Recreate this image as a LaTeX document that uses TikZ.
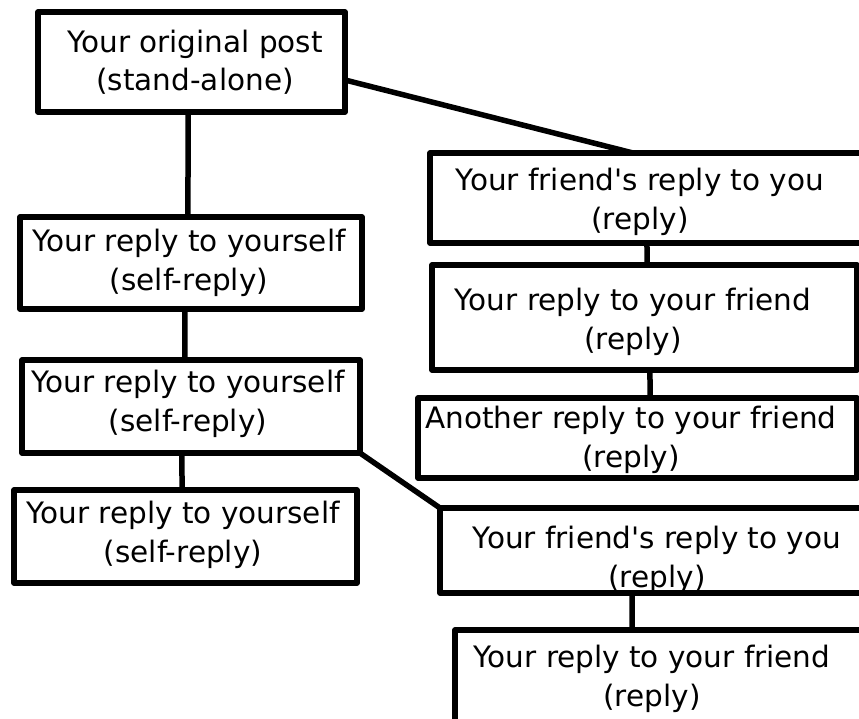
\documentclass[tikz,border=0pt]{standalone}
\usepackage{fontspec}
\setmainfont{DejaVu Sans}
\usetikzlibrary{calc}
\tikzset{
  post/.style={draw=black, line width=5.5pt, line join=round, rectangle, inner sep=0pt, outer sep=0pt},
  lbl/.style={align=center, inner sep=0pt, font=\fontsize{29.5}{38.5}\selectfont},
  link/.style={draw=black, line width=5.5pt, line cap=butt}
}
\begin{document}
\begin{tikzpicture}[x=1pt, y=-1pt]
\useasboundingbox (0,0) rectangle (859,719);
\fill[white] (0,0) rectangle (859,719);
\clip (0,0) rectangle (859,719);
% boxes
\node[post, minimum width=307pt, minimum height=100pt] (A) at (191.5,62) {};
\node[post, minimum width=342pt, minimum height=92pt] (G) at (191,263) {};
\node[post, minimum width=338pt, minimum height=93pt] (H) at (191,406.5) {};
\node[post, minimum width=343pt, minimum height=93pt] (I) at (185.5,536.5) {};
\node[post, minimum width=450pt, minimum height=90pt] (B) at (655,198) {};
\node[post, minimum width=425pt, minimum height=105pt] (C) at (644.5,317.5) {};
\node[post, minimum width=439pt, minimum height=80pt] (D) at (637.5,438) {};
\node[post, minimum width=440pt, minimum height=85pt] (E) at (660,550.5) {};
\node[post, minimum width=425pt, minimum height=110pt] (F) at (667.5,685) {};
% labels
\node[lbl] (tA) at (195,62) {Your original post\\(stand-alone)};
\node[lbl] (tG) at (189,263) {Your reply to yourself\\(self-reply)};
\node[lbl] (tH) at (188,404) {Your reply to yourself\\(self-reply)};
\node[lbl] (tI) at (183,535) {Your reply to yourself\\(self-reply)};
\node[lbl] (tB) at (640,202) {Your friend\textquotesingle s reply to you\\(reply)};
\node[lbl] (tC) at (633,322) {Your reply to your friend\\(reply)};
\node[lbl] (tD) at (631,440) {Another reply to your friend\\(reply)};
\node[lbl] (tE) at (657,560) {Your friend\textquotesingle s reply to you\\(reply)};
\node[lbl] (tF) at (652,679) {Your reply to your friend\\(reply)};
% connectors
\draw[link] ($(A.north east)!0.68!(A.south east)$) -- ($(B.north west)!0.4511!(B.north east)$);
\draw[link] ($(A.south west)!0.489!(A.south east)$) -- ($(G.north west)!0.491!(G.north east)$);
\draw[link] ($(G.south west)!0.482!(G.south east)$) -- ($(H.north west)!0.482!(H.north east)$);
\draw[link] ($(H.south west)!0.473!(H.south east)$) -- ($(I.north west)!0.490!(I.north east)$);
\draw[link] (H.south east) -- (E.north west);
\draw[link] ($(B.south west)!0.4822!(B.south east)$) -- ($(C.north west)!0.5059!(C.north east)$);
\draw[link] ($(C.south west)!0.5129!(C.south east)$) -- ($(D.north west)!0.5285!(D.north east)$);
\draw[link] ($(E.south west)!0.4364!(E.south east)$) -- ($(F.north west)!0.4165!(F.north east)$);
\end{tikzpicture}
\end{document}
